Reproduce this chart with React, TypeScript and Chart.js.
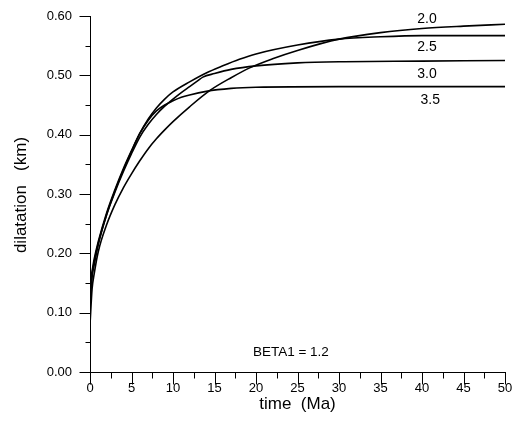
import React, { useEffect, useRef } from "react";
import { Chart, registerables } from "chart.js";

Chart.register(...registerables);

// Series: beta2 = 2.0
const T_20 = [0, 0.25, 0.5, 1, 2, 3, 4, 5, 6, 7, 8, 9, 10, 12, 14.5, 17, 19.3, 22, 25, 30, 35, 40, 45, 50];
const V_20 = [0.08, 0.14, 0.165, 0.203, 0.248, 0.282, 0.31, 0.334, 0.356, 0.376, 0.393, 0.408, 0.422, 0.447, 0.475, 0.496, 0.513, 0.528, 0.542, 0.561, 0.572, 0.579, 0.583, 0.586];
// Series: beta2 = 2.5
const T_25 = [0, 0.25, 0.5, 1, 2, 3, 4, 5, 6, 7, 8, 9, 10, 12, 14, 16, 18, 20, 25, 30, 35, 40, 45, 50];
const V_25 = [0.11, 0.16, 0.18, 0.215, 0.265, 0.305, 0.34, 0.372, 0.402, 0.426, 0.445, 0.46, 0.472, 0.489, 0.504, 0.516, 0.527, 0.536, 0.551, 0.561, 0.565, 0.567, 0.567, 0.567];
// Series: beta2 = 3.0
const T_30 = [0, 0.25, 0.5, 1, 2, 3, 4, 5, 6, 7, 8, 9, 10, 11, 12, 13, 13.6, 15, 17, 20, 25, 30, 40, 50];
const V_30 = [0.13, 0.165, 0.185, 0.217, 0.265, 0.303, 0.337, 0.368, 0.396, 0.417, 0.434, 0.448, 0.46, 0.471, 0.481, 0.491, 0.497, 0.503, 0.51, 0.516, 0.521, 0.523, 0.524, 0.525];
// Series: beta2 = 3.5
const T_35 = [0, 0.25, 0.5, 1, 2, 3, 4, 5, 6, 7, 8, 9, 10, 11, 12, 14, 17, 20, 30, 40, 50];
const V_35 = [0.15, 0.17, 0.19, 0.22, 0.268, 0.307, 0.342, 0.373, 0.402, 0.424, 0.44, 0.45, 0.457, 0.463, 0.467, 0.473, 0.478, 0.48, 0.481, 0.481, 0.481];

const SERIES_NAMES = ["2.0", "2.5", "3.0", "3.5"];
// Curve label anchors (data units)
const LABEL_T = [40.6, 40.6, 40.6, 41.0];
const LABEL_V = [0.595, 0.547, 0.502, 0.458];
const NOTE_TEXT = "BETA1 = 1.2";
const NOTE_T = 24.2;
const NOTE_V = 0.034;

const X_TITLE = "time  (Ma)";
const Y_TITLE = "dilatation   (km)";

const FONT = "'Liberation Sans', Arial, Helvetica, sans-serif";

function zip(t: number[], v: number[]) {
  return t.map((x, i) => ({ x, y: v[i] }));
}

function isMult(v: number, step: number) {
  const r = v / step;
  return Math.abs(r - Math.round(r)) < 1e-6;
}

const extrasPlugin = {
  id: "extras",
  afterDraw(chart: any) {
    const ctx = chart.ctx as CanvasRenderingContext2D;
    const xs = chart.scales.x;
    const ys = chart.scales.y;
    const area = chart.chartArea;
    ctx.save();
    ctx.strokeStyle = "#000";
    ctx.lineWidth = 1;
    const yAxisX = Math.round(ys.right) + 0.5;
    const xAxisY = Math.round(xs.top) + 0.5;
    xs.ticks.forEach((t: any) => {
      const px = Math.round(xs.getPixelForValue(t.value)) + 0.5;
      const len = isMult(t.value, 5) ? 12 : 6;
      ctx.beginPath();
      ctx.moveTo(px, xAxisY);
      ctx.lineTo(px, xAxisY + len);
      ctx.stroke();
    });
    ys.ticks.forEach((t: any) => {
      const py = Math.round(ys.getPixelForValue(t.value)) + 0.5;
      const len = isMult(t.value, 0.1) ? 11 : 5;
      ctx.beginPath();
      ctx.moveTo(yAxisX, py);
      ctx.lineTo(yAxisX - len, py);
      ctx.stroke();
    });
    ctx.fillStyle = "#000";
    ctx.font = `14px ${FONT}`;
    ctx.textAlign = "center";
    ctx.textBaseline = "middle";
    SERIES_NAMES.forEach((name, i) => {
      ctx.fillText(name, xs.getPixelForValue(LABEL_T[i]), ys.getPixelForValue(LABEL_V[i]));
    });
    ctx.font = `13.5px ${FONT}`;
    ctx.fillText(NOTE_TEXT, xs.getPixelForValue(NOTE_T), ys.getPixelForValue(NOTE_V));
    // y axis title
    ctx.font = `17px ${FONT}`;
    ctx.translate(21, (area.top + area.bottom) / 2 + 1);
    ctx.rotate(-Math.PI / 2);
    ctx.fillText(Y_TITLE, 0, 0);
    ctx.restore();
  },
};

export default function App() {
  const ref = useRef<HTMLCanvasElement | null>(null);
  useEffect(() => {
    if (!ref.current) return;
    const series = [zip(T_20, V_20), zip(T_25, V_25), zip(T_30, V_30), zip(T_35, V_35)];
    const chart = new Chart(ref.current, {
      type: "line",
      data: {
        datasets: series.map((d, i) => ({
          label: SERIES_NAMES[i],
          data: d,
          borderColor: "#000",
          backgroundColor: "#000",
          borderWidth: 1.6,
          pointRadius: 0,
          fill: false,
          cubicInterpolationMode: "monotone" as const,
        })),
      },
      options: {
        responsive: false,
        animation: false,
        devicePixelRatio: 1,
        layout: { padding: { top: 16, right: 8, left: 0, bottom: 0 } },
        plugins: { legend: { display: false }, tooltip: { enabled: false } },
        scales: {
          x: {
            type: "linear",
            min: 0,
            max: 50,
            afterFit: (s: any) => {
              s.height = 53;
            },
            ticks: {
              stepSize: 2.5,
              autoSkip: false,
              maxRotation: 0,
              padding: -3,
              color: "#000",
              font: { family: FONT, size: 13 },
              callback: (v: any) => (isMult(Number(v), 5) ? String(v) : ""),
            },
            grid: { drawOnChartArea: false, drawTicks: true, tickLength: 12, tickColor: "rgba(0,0,0,0)", color: "rgba(0,0,0,0)" },
            border: { display: true, color: "#000", width: 1 },
            title: { display: true, text: X_TITLE, color: "#000", font: { family: FONT, size: 17 }, padding: { top: 0, bottom: 10 } },
          },
          y: {
            type: "linear",
            min: 0,
            max: 0.6,
            afterFit: (s: any) => {
              s.width = 90;
            },
            ticks: {
              stepSize: 0.05,
              autoSkip: false,
              padding: 7,
              color: "#000",
              font: { family: FONT, size: 13 },
              callback: (v: any) => (isMult(Number(v), 0.1) ? Number(v).toFixed(2) : ""),
            },
            grid: { drawOnChartArea: false, drawTicks: true, tickLength: 11, tickColor: "rgba(0,0,0,0)", color: "rgba(0,0,0,0)" },
            border: { display: true, color: "#000", width: 1 },
            title: { display: false },
          },
        },
      },
      plugins: [extrasPlugin],
    });
    return () => chart.destroy();
  }, []);
  return (
    <div style={{ position: "absolute", left: 0, top: 0, width: 513, height: 425, background: "#fff" }}>
      <canvas ref={ref} width={513} height={425} />
    </div>
  );
}
